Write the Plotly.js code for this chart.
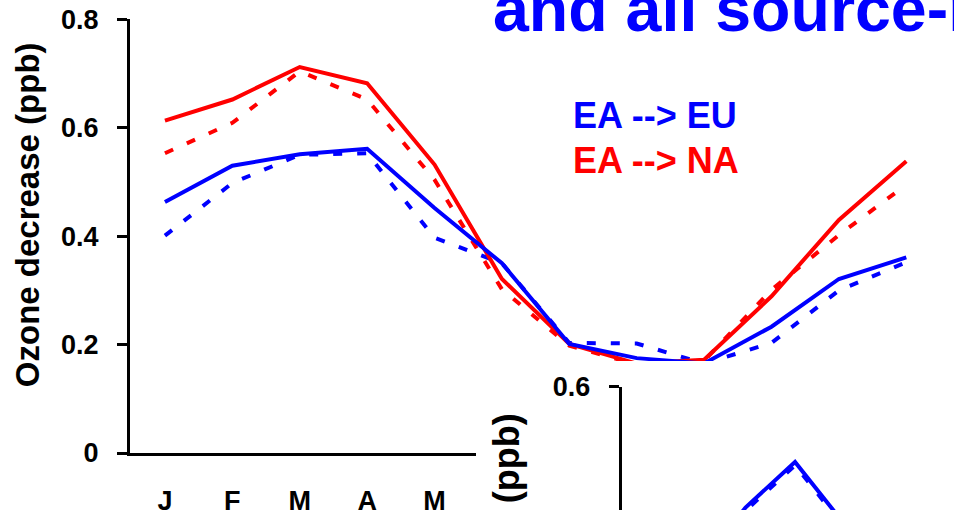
<!DOCTYPE html>
<html>
<head>
<meta charset="utf-8">
<script src="https://cdn.plot.ly/plotly-3.0.1.min.js"></script>
<style>html,body{margin:0;padding:0;background:#fff;}#chart{width:954px;height:510px;}</style>
</head>
<body>
<div id="chart"></div>
<script>
// ---- data ----
const monthLabels = ['J','F','M','A','M','J','J','A','S','O','N','D'];
const monthIndex = [0,1,2,3,4,5,6,7,8,9,10,11];
const eaToEuSolid  = [0.463,0.530,0.551,0.561,0.452,0.350,0.201,0.175,0.165,0.233,0.321,0.361];
const eaToEuDashed = [0.401,0.498,0.550,0.553,0.397,0.350,0.203,0.202,0.165,0.203,0.300,0.352];
const eaToNaSolid  = [0.613,0.652,0.712,0.682,0.532,0.321,0.201,0.165,0.172,0.289,0.430,0.538];
const eaToNaDashed = [0.553,0.609,0.704,0.652,0.504,0.302,0.198,0.163,0.170,0.301,0.402,0.495];
const yTickVals = [0,0.2,0.4,0.6,0.8];
const yTickText = ['0','0.2','0.4','0.6','0.8'];
// inset (only its top part is visible)
const insetMonthIndex = [0,1,2,3,4,5,6];
const insetSolid  = [0.22,0.26,0.377,0.461,0.346,0.28,0.24];
const insetDashed = [0.21,0.25,0.371,0.455,0.340,0.27,0.23];
const insetTickVals = [0.6];
const insetTickText = ['0.6'];

const BLUE = '#0000FF', RED = '#FF0000';
const FONT = 'Liberation Sans, Arial, sans-serif';
const W = 954, H = 510;
const px = v => v / W;
const py = v => 1 - v / H;

const dash = '9px,15px';
const traces = [
  {x: monthIndex, y: eaToNaDashed, mode:'lines', line:{color:RED, width:4, dash:dash}, name:'EA --> NA (dashed)', xaxis:'x', yaxis:'y'},
  {x: monthIndex, y: eaToEuDashed, mode:'lines', line:{color:BLUE, width:4, dash:dash}, name:'EA --> EU (dashed)', xaxis:'x', yaxis:'y'},
  {x: monthIndex, y: eaToNaSolid, mode:'lines', line:{color:RED, width:4}, name:'EA --> NA', xaxis:'x', yaxis:'y'},
  {x: monthIndex, y: eaToEuSolid, mode:'lines', line:{color:BLUE, width:4}, name:'EA --> EU', xaxis:'x', yaxis:'y'},
  // white panel of the inset figure
  {x: [], y: [], mode:'lines', xaxis:'x2', yaxis:'y2', showlegend:false, hoverinfo:'skip'},
  // inset
  {x: insetMonthIndex, y: insetDashed, mode:'lines', line:{color:BLUE, width:4, dash:dash}, xaxis:'x3', yaxis:'y3'},
  {x: insetMonthIndex, y: insetSolid, mode:'lines', line:{color:BLUE, width:4}, xaxis:'x3', yaxis:'y3'}
];

const tickFont = {family: FONT, size: 27, color:'#000', weight:'bold'};

const layout = {
  width: W, height: H,
  margin: {l:0, r:0, t:0, b:0},
  paper_bgcolor: '#fff', plot_bgcolor: '#fff',
  showlegend: false,
  font: {family: FONT, color:'#000'},
  xaxis: {
    domain: [px(130), px(940)], range: [-0.5185, 11.5],
    tickvals: monthIndex, ticktext: monthLabels,
    tickfont: {family: FONT, size: 27, color:'#000', weight:'bold'},
    ticks: '', showline: true, linewidth: 3, linecolor: '#000',
    showgrid: false, zeroline: false, ticklabelstandoff: 22, anchor: 'y'
  },
  yaxis: {
    domain: [py(453), py(19.3)], range: [0, 0.8],
    tickvals: yTickVals, ticktext: yTickText, tickfont: tickFont,
    ticks: 'outside', ticklen: 10, tickwidth: 3, tickcolor: '#000',
    showline: true, linewidth: 3, linecolor: '#000',
    showgrid: false, zeroline: false, ticklabelstandoff: 13, anchor: 'x'
  },
  xaxis2: {domain: [px(476), 1], range:[0,1], visible:false, anchor:'y2'},
  yaxis2: {domain: [0, py(361)], range:[0,1], visible:false, anchor:'x2'},
  xaxis3: {
    domain: [px(621.7), 1], range: [-0.5, 6.21],
    showline:false, showticklabels:false, ticks:'', showgrid:false, zeroline:false, anchor:'y3'
  },
  yaxis3: {
    domain: [0, py(386.7)], range: [0.6 - 123.3/541.75, 0.6],
    tickvals: insetTickVals, ticktext: insetTickText, tickfont: tickFont,
    ticks: 'outside', ticklen: 10, tickwidth: 3, tickcolor:'#000',
    showline: true, linewidth: 3, linecolor:'#000',
    showgrid:false, zeroline:false, ticklabelstandoff: 13, anchor:'x3'
  },
  annotations: [
    {text: 'and all source-receptor pairs', xref:'paper', yref:'paper', x: px(491), y: py(9.3),
     xanchor:'left', yanchor:'middle', showarrow:false,
     font:{family: FONT, size: 64.5, color: BLUE, weight:'bold'}},
    {text: 'EA --> EU', xref:'paper', yref:'paper', x: px(570.5), y: py(115.2),
     xanchor:'left', yanchor:'middle', showarrow:false,
     font:{family: FONT, size: 36, color: BLUE, weight:'bold'}},
    {text: 'EA --> NA', xref:'paper', yref:'paper', x: px(570.5), y: py(160.5),
     xanchor:'left', yanchor:'middle', showarrow:false,
     font:{family: FONT, size: 36, color: RED, weight:'bold'}},
    {text: 'Ozone decrease (ppb)', xref:'paper', yref:'paper', x: px(27.2), y: py(215),
     xanchor:'center', yanchor:'middle', textangle: -90, showarrow:false,
     font:{family: FONT, size: 33, color:'#000', weight:'bold'}},
    {text: 'Ozone decrease (ppb)', xref:'paper', yref:'paper', x: px(506.3), y: py(411),
     xanchor:'center', yanchor:'top', textangle: -90, showarrow:false,
     font:{family: FONT, size: 36, color:'#000', weight:'bold'}}
  ]
};

Plotly.newPlot('chart', traces, layout, {staticPlot: true, displayModeBar: false});
</script>
</body>
</html>
